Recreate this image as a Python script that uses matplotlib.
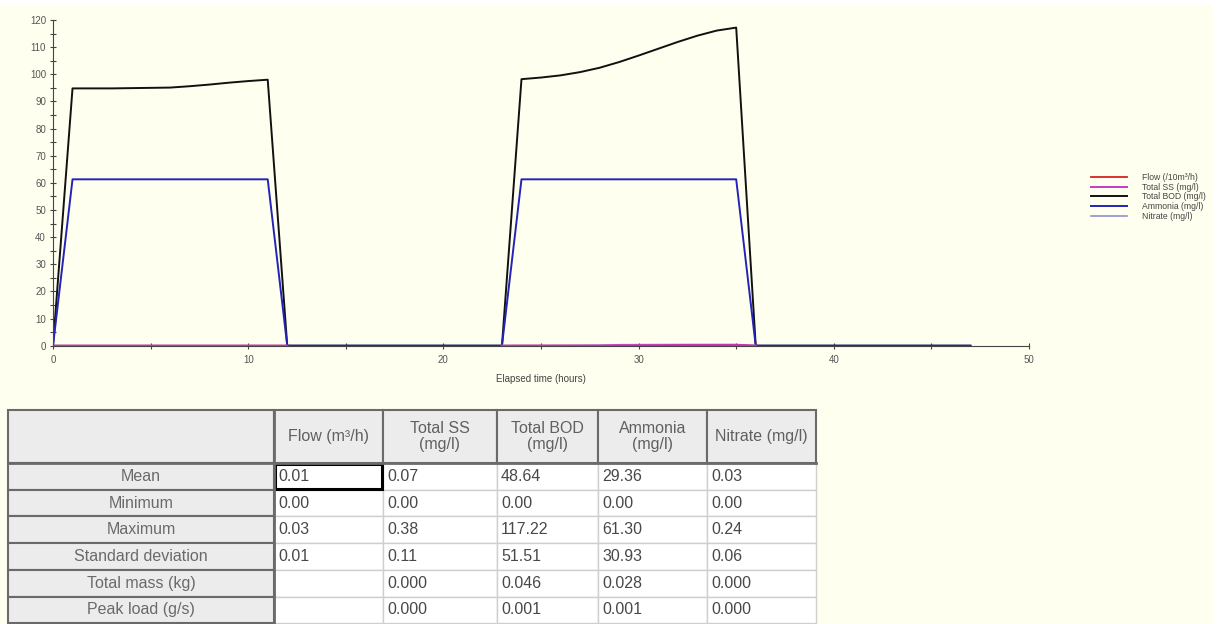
import numpy as np
import matplotlib
matplotlib.use("Agg")
import matplotlib.pyplot as plt
from matplotlib.patches import Rectangle
from matplotlib.ticker import MultipleLocator

plt.rcParams["font.family"] = ["Liberation Sans", "DejaVu Sans"]

# ====== DATA ======
hours = list(range(0, 48))

bod = [0, 94.8, 94.8, 94.8, 94.9, 95.0, 95.1, 95.6, 96.2, 96.9, 97.5, 98.0,
       0, 0, 0, 0, 0, 0, 0, 0, 0, 0, 0, 0,
       98.2, 98.8, 99.6, 100.8, 102.4, 104.5, 106.9, 109.4, 111.9, 114.2, 116.1, 117.2,
       0, 0, 0, 0, 0, 0, 0, 0, 0, 0, 0, 0]

ammonia = [0] + [61.3] * 11 + [0] * 12 + [61.3] * 12 + [0] * 12

nan = np.nan
# flow / SS / nitrate only logged while there is flow
flow10 = [0.0, 0.0, 0.0, 0.0, 0.0, 0.0, 0.0, 0.0, 0.0, 0.0, 0.0, 0.0, 0.0,
          nan, nan, nan, nan, nan, nan, nan, nan, nan, nan,
          0.0, 0.0, 0.0, 0.0, 0.0, 0.0, 0.0, 0.0, 0.05, 0.3, 0.3, 0.3, 0.3, 0.0,
          nan, nan, nan, nan, nan, nan, nan, nan, nan, nan, nan]
total_ss = [0.0, 0.02, 0.02, 0.02, 0.02, 0.02, 0.02, 0.02, 0.02, 0.02, 0.02, 0.02, 0.0,
            nan, nan, nan, nan, nan, nan, nan, nan, nan, nan,
            0.0, 0.05, 0.05, 0.05, 0.05, 0.08, 0.30, 0.33, 0.35, 0.36, 0.37, 0.38, 0.38, 0.0,
            nan, nan, nan, nan, nan, nan, nan, nan, nan, nan, nan]
nitrate = [0.0, 0.01, 0.01, 0.01, 0.01, 0.01, 0.01, 0.01, 0.01, 0.01, 0.01, 0.01, 0.0,
           nan, nan, nan, nan, nan, nan, nan, nan, nan, nan,
           0.0, 0.02, 0.03, 0.05, 0.08, 0.12, 0.16, 0.20, 0.22, 0.24, 0.24, 0.23, 0.22, 0.0,
           nan, nan, nan, nan, nan, nan, nan, nan, nan, nan, nan]

legend_labels = ["Flow (/10m\u00b3/h)", "Total SS (mg/l)", "Total BOD (mg/l)",
                 "Ammonia (mg/l)", "Nitrate (mg/l)"]

# ====== TABLE DATA ======
col_headers = ["", "Flow (m\u00b3/h)", "Total SS\n(mg/l)", "Total BOD\n(mg/l)",
               "Ammonia\n(mg/l)", "Nitrate (mg/l)"]
row_labels = ["Mean", "Minimum", "Maximum", "Standard deviation",
              "Total mass (kg)", "Peak load (g/s)"]
flow_stats = ["0.01", "0.00", "0.03", "0.01", "", ""]
ss_stats = ["0.07", "0.00", "0.38", "0.11", "0.000", "0.000"]
bod_stats = ["48.64", "0.00", "117.22", "51.51", "0.046", "0.001"]
ammonia_stats = ["29.36", "0.00", "61.30", "30.93", "0.028", "0.001"]
nitrate_stats = ["0.03", "0.00", "0.24", "0.06", "0.000", "0.000"]

# ====== FIGURE ======
W, H = 1219, 624
BG = "#fffff0"
fig = plt.figure(figsize=(W / 100, H / 100), dpi=100, facecolor=BG)

# thin white strip along the top and right edge of the screenshot
fig.patches.append(Rectangle((0, 1 - 5 / H), 1, 5 / H, transform=fig.transFigure,
                             facecolor="white", edgecolor="none", zorder=0))
fig.patches.append(Rectangle((1 - 6 / W, 0), 6 / W, 1, transform=fig.transFigure,
                             facecolor="white", edgecolor="none", zorder=0))

ax = fig.add_axes([53 / W, 1 - 345.7 / H, (1029 - 53) / W, (345.7 - 20) / H])
ax.set_facecolor("none")

ax.plot(hours, bod, color="#111111", lw=1.4, label=legend_labels[2])
ax.plot(hours, ammonia, color="#2323b8", lw=1.4, label=legend_labels[3])
ax.plot(hours, nitrate, color="#9090d0", lw=1.2, label=legend_labels[4])
ax.plot(hours, flow10, color="#c02040", lw=1.3, label=legend_labels[0])
ax.plot(hours, total_ss, color="#c838c8", lw=1.4, alpha=0.85, label=legend_labels[1])

ax.set_xlim(0, 50)
ax.set_ylim(0, 120)
ax.xaxis.set_major_locator(MultipleLocator(10))
ax.xaxis.set_minor_locator(MultipleLocator(5))
ax.yaxis.set_major_locator(MultipleLocator(10))
ax.yaxis.set_minor_locator(MultipleLocator(5))
for s in ["top", "right"]:
    ax.spines[s].set_visible(False)
for s in ["left", "bottom"]:
    ax.spines[s].set_color("#444444")
    ax.spines[s].set_linewidth(0.8)
ax.tick_params(which="major", direction="inout", length=5, width=0.8, color="#444444",
               labelsize=7, labelcolor="#555555")
ax.tick_params(which="minor", direction="inout", length=4, width=0.8, color="#444444")
ax.tick_params(axis="x", pad=4)
ax.tick_params(axis="y", pad=2.5)
ax.set_xlabel("Elapsed time (hours)", fontsize=7, color="#444444", labelpad=6.5)

handles, labels = ax.get_legend_handles_labels()
order = [labels.index(l) for l in legend_labels]
leg_colors = ["#d82020", "#c838c8", "#111111", "#2323b8", "#9090d0"]
leg = fig.legend([handles[i] for i in order], legend_labels,
                 loc="upper left", bbox_to_anchor=(1083 / W, 1 - 165 / H),
                 frameon=False, fontsize=6.2, handlelength=4.2, handletextpad=1.7,
                 labelspacing=0.1, labelcolor="#444444")
for line, c in zip(leg.get_lines(), leg_colors):
    line.set_color(c)
    line.set_alpha(1)

# ====== STATS TABLE ======
tab = fig.add_axes([0, 0, 1, 1])
tab.set_xlim(0, W)
tab.set_ylim(H, 0)
tab.axis("off")

col_edges = [8, 274, 383, 497, 598, 707, 816]
head_top, head_bot = 410, 463
row_h = 26.7
table_cols = [flow_stats, ss_stats, bod_stats, ammonia_stats, nitrate_stats]

gray = "#ececec"
dark = "#6a6a6a"
light = "#cfcfcf"
fs = 11.5

# header row
for j in range(len(col_headers)):
    x0, x1 = col_edges[j], col_edges[j + 1]
    tab.add_patch(Rectangle((x0, head_top), x1 - x0, head_bot - head_top,
                            facecolor=gray, edgecolor=dark, lw=1.5))
    tab.text((x0 + x1) / 2, (head_top + head_bot) / 2, col_headers[j],
             ha="center", va="center", fontsize=fs, color="#606060", linespacing=1.15)

# body rows
for i, lab in enumerate(row_labels):
    y0 = head_bot + i * row_h
    for j, col in enumerate(table_cols):
        x0, x1 = col_edges[j + 1], col_edges[j + 2]
        tab.add_patch(Rectangle((x0, y0), x1 - x0, row_h,
                                facecolor="white", edgecolor=light, lw=1.0))
        tab.text(x0 + 4, y0 + row_h / 2, col[i], ha="left", va="center",
                 fontsize=fs, color="#484848")
    x0, x1 = col_edges[0], col_edges[1]
    tab.add_patch(Rectangle((x0, y0), x1 - x0, row_h,
                            facecolor=gray, edgecolor=dark, lw=1.5))
    tab.text((x0 + x1) / 2, y0 + row_h / 2, lab, ha="center", va="center",
             fontsize=fs, color="#6a6a6a")

# header bottom line, right border of label column
tab.plot([col_edges[0], col_edges[-1]], [head_bot, head_bot], color=dark, lw=2)
tab.plot([col_edges[1], col_edges[1]], [head_top, H], color=dark, lw=2)

# selected cell (Mean / Flow)
tab.add_patch(Rectangle((col_edges[1] + 1, head_bot + 1), col_edges[2] - col_edges[1] - 2,
                        row_h - 2, facecolor="none", edgecolor="black", lw=2.2))

plt.savefig("out.png", dpi=100, facecolor=BG)
